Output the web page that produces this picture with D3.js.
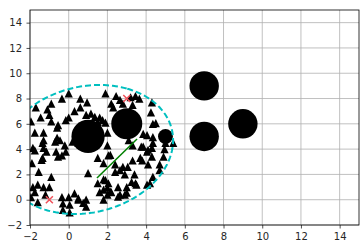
<!DOCTYPE html>
<html lang="en">
<head>
<meta charset="UTF-8">
<title>clusters</title>
<script src="https://d3js.org/d3.v7.min.js"></script>
<style>
  body { margin: 0; background: #fff; }
  text { font-family: "DejaVu Sans", sans-serif; }
</style>
</head>
<body>
<svg width="363" height="250"></svg>
<script>
// ticks
var xTicks = [-2, 0, 2, 4, 6, 8, 10, 12, 14];
var yTicks = [-2, 0, 2, 4, 6, 8, 10, 12, 14];

// triangle points (x, y)
var points = [
  [1.9,8.4],[0.0,8.4],[-0.35,8.0],[0.6,8.0],[0.95,7.7],[2.45,8.2],[3.2,8.1],[3.45,8.2],[3.65,8.0],[4.3,7.7],
  [-1.7,7.3],[-0.9,7.6],[-1.1,7.15],[-1.45,6.5],[-1.0,6.7],[0.3,7.0],[0.0,6.5],[0.6,7.3],[1.15,6.8],[1.6,6.5],
  [2.2,7.6],[2.3,7.3],[2.65,7.9],[2.8,7.6],[3.3,7.5],[4.25,6.9],[-1.95,6.2],[-0.9,6.2],[-0.55,5.9],[-0.15,6.3],
  [0.9,6.7],[1.35,6.55],[1.5,6.15],[1.9,6.1],[1.75,6.3],[4.35,6.0],[4.5,6.05],
  [-1.75,5.3],[-1.3,5.3],[-1.35,4.5],[-0.7,4.6],[-0.45,4.7],[-0.2,4.3],[-0.65,3.8],[-1.15,3.8],[-0.15,3.8],
  [-1.75,3.9],[-0.6,5.7],[-0.6,4.9],[-1.3,4.7],[-1.85,4.1],[-1.3,4.1],[0.2,4.6],[0.45,5.1],[0.75,5.5],[0.5,4.5],
  [2.0,5.3],[2.0,4.3],[2.05,3.5],[3.85,5.2],[4.35,4.5],[4.05,3.8],[3.75,4.2],[4.05,5.1],[4.35,4.95],[3.1,4.7],
  [3.3,4.3],[3.85,4.2],[4.3,4.1],[4.95,4.0],[5.4,4.5],[5.0,4.5],[-0.35,3.5],[-0.55,3.4],[-1.4,3.15],[1.5,3.3],
  [2.15,3.55],[4.3,3.4],[4.9,3.4],[3.7,3.3],[4.1,3.95],
  [-1.9,2.9],[-1.35,3.3],[-1.55,2.2],[-0.9,1.8],[-1.85,1.0],[-1.6,1.2],[-1.3,1.0],[-1.0,1.0],[-1.75,0.6],[-1.2,0.4],
  [-1.95,0.2],[-1.6,-0.2],[-0.35,0.2],[0.0,0.2],[0.3,0.5],[0.5,0.1],[-0.3,-0.3],[0.05,-0.4],[0.75,-0.25],[0.9,0.0],
  [-0.3,-0.8],[0.05,-1.0],[0.5,0.0],[0.9,-0.55],[1.8,2.9],[1.0,2.1],[1.5,1.3],[1.8,1.6],[2.0,0.95],[1.6,0.6],
  [2.0,0.4],[2.2,0.6],[2.55,1.0],[3.0,1.0],[3.25,1.4],[3.5,1.2],[2.65,0.4],[2.9,0.4],[2.4,2.2],[2.9,2.0],
  [3.4,2.0],[2.8,2.6],[2.4,2.8],[3.3,3.1],[4.1,2.8],[4.7,2.8],[4.35,1.8],[4.05,1.2],[2.65,2.35],[3.05,2.6],
  [3.8,3.1],[4.7,2.35],[4.2,1.3],[3.45,1.3],[2.55,0.25],[3.0,0.55],[1.9,1.55],[2.05,1.3],[1.8,0.8],[1.8,0.0],[2.15,0.65]
];

// big cluster centres and their scatter size
var centerX = [1, 3, 7, 7, 9, 5];
var centerY = [5, 6, 9, 5, 6, 5];
var centerS = [1150, 1000, 900, 900, 900, 230];

// crosses
var crossX = [-1, 3];
var crossY = [0, 8];

// segment
var segX = [1.46, 3.53];
var segY = [1.72, 4.8];

// ellipse: centre, width, height, angle (deg)
var ellCenter = [0.95, 3.97];
var ellWidth = 10.47;
var ellHeight = 8.57;
var ellAngle = 67;

var svg = d3.select('svg');
var padL = 30, padT = 10, padR = 359, padB = 225;

var x = d3.scaleLinear().domain([-2, 15]).range([padL, padR]);
var y = d3.scaleLinear().domain([-2, 15]).range([padB, padT]);

svg.append('clipPath').attr('id', 'clip')
  .append('rect').attr('x', padL).attr('y', padT)
  .attr('width', padR - padL).attr('height', padB - padT);

// grid
var grid = svg.append('g').attr('stroke', '#b0b0b0').attr('stroke-width', 0.8);
grid.selectAll('.gx').data(xTicks).join('line').attr('class', 'gx')
  .attr('x1', d => x(d)).attr('x2', d => x(d)).attr('y1', padT).attr('y2', padB);
grid.selectAll('.gy').data(yTicks).join('line').attr('class', 'gy')
  .attr('y1', d => y(d)).attr('y2', d => y(d)).attr('x1', padL).attr('x2', padR);

var plot = svg.append('g').attr('clip-path', 'url(#clip)');

// triangles
var tri = 4.1;
plot.append('g').selectAll('path').data(points).join('path')
  .attr('d', 'M0,' + (-tri) + 'L' + tri + ',' + tri + 'L' + (-tri) + ',' + tri + 'Z')
  .attr('transform', d => 'translate(' + x(d[0]) + ',' + y(d[1]) + ')')
  .attr('fill', '#000');

// cluster circles
var r = d3.scaleSqrt().domain([0, 1000]).range([0, 15.5]);
plot.append('g').selectAll('circle').data(centerX).join('circle')
  .attr('cx', d => x(d)).attr('cy', (d, i) => y(centerY[i]))
  .attr('r', (d, i) => r(centerS[i]))
  .attr('fill', '#000');

// ellipse outline
var steps = d3.range(0, 361, 2);
var a = ellAngle * Math.PI / 180;
var ellPts = steps.map(function(t) {
  var tt = t * Math.PI / 180;
  var ex = ellWidth / 2 * Math.cos(tt), ey = ellHeight / 2 * Math.sin(tt);
  return [ellCenter[0] + ex * Math.cos(a) - ey * Math.sin(a),
          ellCenter[1] + ex * Math.sin(a) + ey * Math.cos(a)];
});
plot.append('path')
  .attr('d', d3.line().x(d => x(d[0])).y(d => y(d[1])).curve(d3.curveLinearClosed)(ellPts))
  .attr('fill', 'none')
  .attr('stroke', '#00bfbf')
  .attr('stroke-width', 2)
  .attr('stroke-dasharray', '6,3');

// green segment
plot.append('line')
  .attr('x1', x(segX[0])).attr('y1', y(segY[0]))
  .attr('x2', x(segX[1])).attr('y2', y(segY[1]))
  .attr('stroke', 'green').attr('stroke-width', 1.5);

// red crosses
var cs = 3.5;
plot.append('g').selectAll('path').data(crossX).join('path')
  .attr('d', 'M' + (-cs) + ',' + (-cs) + 'L' + cs + ',' + cs + 'M' + (-cs) + ',' + cs + 'L' + cs + ',' + (-cs))
  .attr('transform', (d, i) => 'translate(' + x(d) + ',' + y(crossY[i]) + ')')
  .attr('stroke', '#f0505a').attr('stroke-width', 1.5).attr('fill', 'none');

// axes
var fmt = d3.format('');
var xAxis = svg.append('g').attr('transform', 'translate(0,' + padB + ')')
  .call(d3.axisBottom(x).tickValues(xTicks).tickFormat(fmt).tickSizeInner(3.5).tickSizeOuter(0).tickPadding(4.5));
var yAxis = svg.append('g').attr('transform', 'translate(' + padL + ',0)')
  .call(d3.axisLeft(y).tickValues(yTicks).tickFormat(fmt).tickSizeInner(3.5).tickSizeOuter(0).tickPadding(4.5));
[xAxis, yAxis].forEach(function(g) {
  g.select('.domain').remove();
  g.selectAll('text').attr('font-size', 10).attr('fill', '#262626').attr('font-family', '"DejaVu Sans", sans-serif');
  g.selectAll('line').attr('stroke', '#262626').attr('stroke-width', 0.8);
});

// frame
svg.append('rect').attr('x', padL).attr('y', padT)
  .attr('width', padR - padL).attr('height', padB - padT)
  .attr('fill', 'none').attr('stroke', '#000').attr('stroke-width', 0.8);
</script>
</body>
</html>
